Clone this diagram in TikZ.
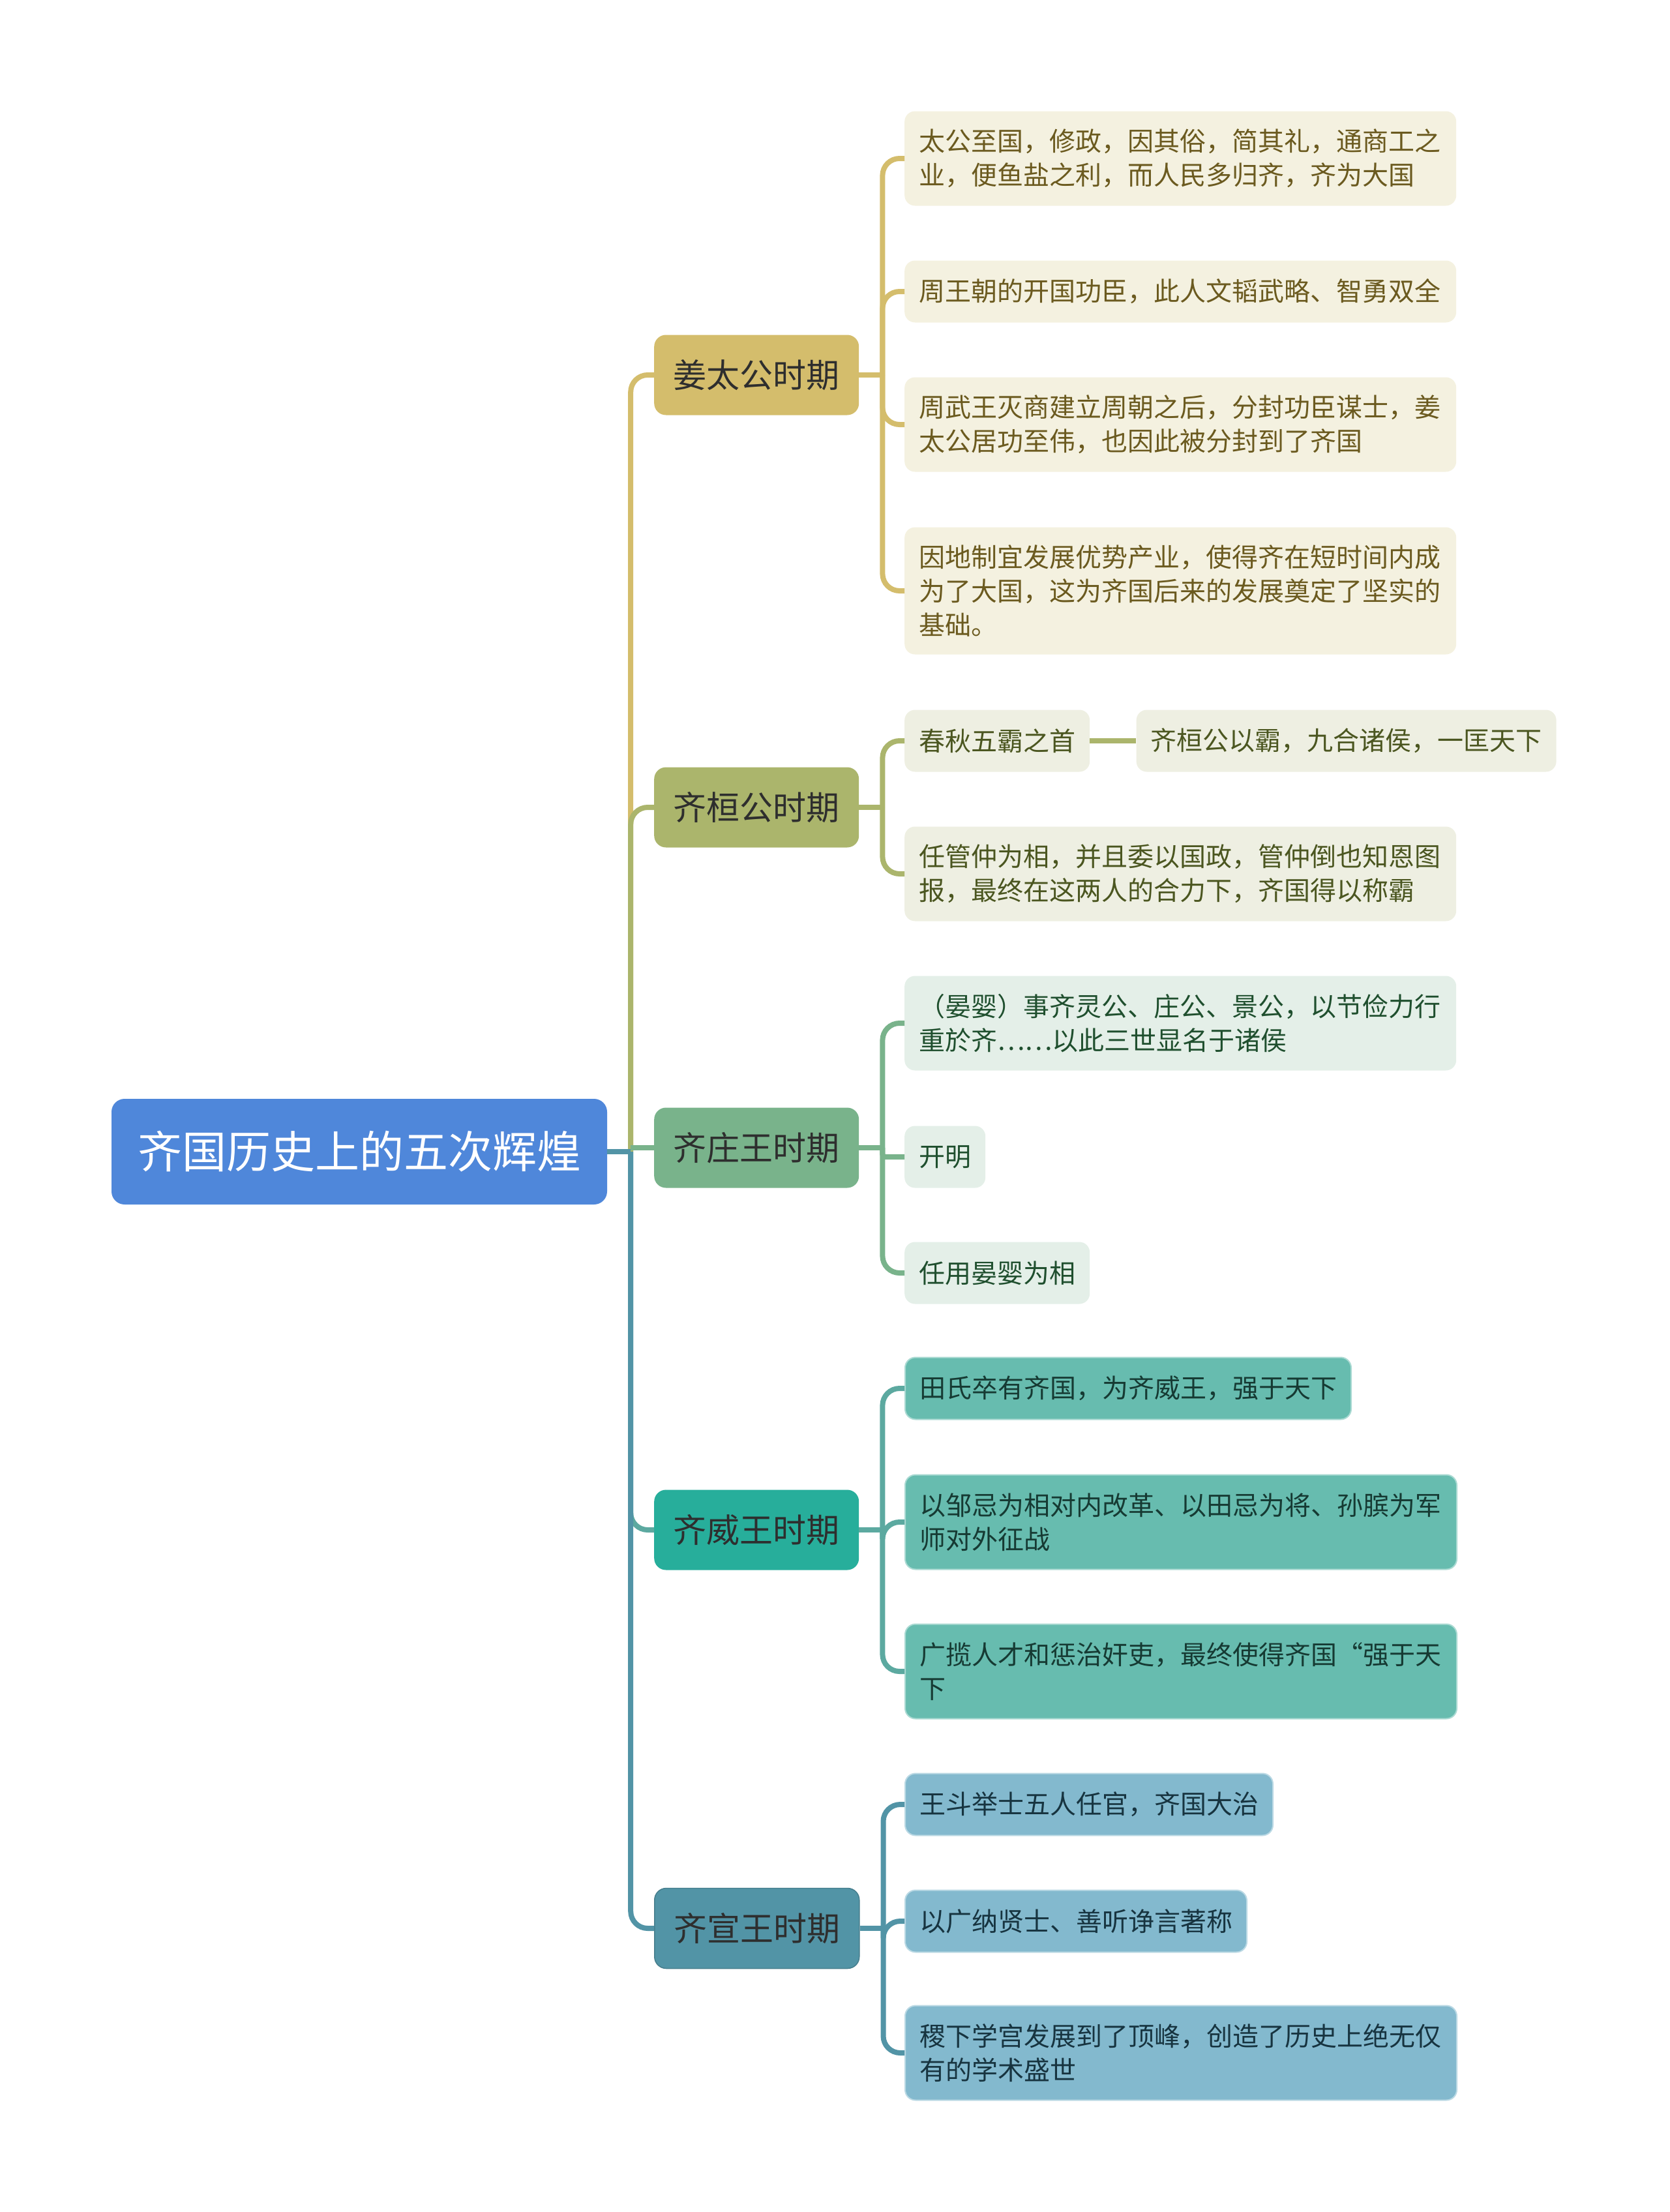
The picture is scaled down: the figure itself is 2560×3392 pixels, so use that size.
\documentclass[tikz,border=0pt]{standalone}
\usepackage{fontspec}
\setmainfont{Noto Sans CJK SC}
\usepackage{tikz}
\usetikzlibrary{positioning}

\definecolor{rootblue}{HTML}{4F87DA}
\definecolor{jiangc}{HTML}{D4BD6C}
\definecolor{jiangleaf}{HTML}{F4F1E0}
\definecolor{jiangtext}{HTML}{6B5A1F}
\definecolor{huanc}{HTML}{ABB56C}
\definecolor{huanleaf}{HTML}{EEEFE2}
\definecolor{huantext}{HTML}{4B5620}
\definecolor{zhuangc}{HTML}{79B38B}
\definecolor{zhuangleaf}{HTML}{E4EFE8}
\definecolor{zhuangtext}{HTML}{1F4F2E}
\definecolor{weic}{HTML}{27AE9B}
\definecolor{weilink}{HTML}{5CA9A0}
\definecolor{weileaf}{HTML}{67BCAF}
\definecolor{weitext}{HTML}{163A33}
\definecolor{xuanc}{HTML}{5294A6}
\definecolor{xuanleaf}{HTML}{83B9CE}
\definecolor{xuantext}{HTML}{173440}
\definecolor{topictext}{HTML}{2E2E2E}

\begin{document}
\begin{tikzpicture}[
    x=1pt, y=-1pt,
    rootbox/.style={rectangle, rounded corners=20pt, fill=rootblue, text=white, minimum width=760pt, minimum height=162pt, inner sep=0pt, font=\fontsize{68}{80}\selectfont},
    topic/.style={rectangle, rounded corners=18pt, minimum width=314pt, minimum height=123pt, inner sep=0pt, anchor=west, text=topictext, font=\fontsize{51}{60}\selectfont},
    leaf/.style={rectangle, rounded corners=16pt, inner xsep=22pt, inner ysep=0pt, minimum height=95pt, anchor=west, align=left, font=\fontsize{40}{52}\selectfont},
    wide/.style={leaf, text width=802pt},
    two/.style={minimum height=145pt},
    three/.style={minimum height=195pt},
    jiangleafbox/.style={fill=jiangleaf, text=jiangtext},
    huanleafbox/.style={fill=huanleaf, text=huantext},
    zhuangleafbox/.style={fill=zhuangleaf, text=zhuangtext},
    weileafbox/.style={fill=weileaf, text=weitext, draw=weileaf!55!white, line width=2pt},
    xuanleafbox/.style={fill=xuanleaf, text=xuantext, draw=xuanleaf!55!white, line width=2pt},
    link/.style={line width=8pt, rounded corners=26pt},
]
\useasboundingbox (0,0) rectangle (2560,3392);

% 中心主题
\node[rootbox] (root) at (551,1766) {齐国历史上的五次辉煌};
\coordinate[right=36pt of root.east] (trunk);

% 五个时期
\node[topic, fill=jiangc] (jiang) at (1003,575) {姜太公时期};
\node[topic, fill=huanc] (huan) at (1003,1238) {齐桓公时期};
\node[topic, fill=zhuangc] (zhuang) at (1003,1760) {齐庄王时期};
\node[topic, fill=weic] (wei) at (1003,2346) {齐威王时期};
\node[topic, fill=xuanc, draw=xuanc!85!black, line width=1.5pt] (xuan) at (1003,2957) {齐宣王时期};

\coordinate[right=36pt of jiang.east] (jiang_fork);
\coordinate[right=36pt of huan.east] (huan_fork);
\coordinate[right=36pt of zhuang.east] (zhuang_fork);
\coordinate[right=36pt of wei.east] (wei_fork);
\coordinate[right=36pt of xuan.east] (xuan_fork);

% 姜太公时期
\node[wide, two, jiangleafbox] (jiang_a) at (1387,243) {太公至国，修政，因其俗，简其礼，通商工之\\业，便鱼盐之利，而人民多归齐，齐为大国};
\node[wide, jiangleafbox] (jiang_b) at (1387,447) {周王朝的开国功臣，此人文韬武略、智勇双全};
\node[wide, two, jiangleafbox] (jiang_c) at (1387,651) {周武王灭商建立周朝之后，分封功臣谋士，姜\\太公居功至伟，也因此被分封到了齐国};
\node[wide, three, jiangleafbox] (jiang_d) at (1387,906) {因地制宜发展优势产业，使得齐在短时间内成\\为了大国，这为齐国后来的发展奠定了坚实的\\基础。};

% 齐桓公时期
\node[leaf, huanleafbox] (huan_a) at (1387,1136) {春秋五霸之首};
\node[leaf, huanleafbox, right=71pt of huan_a] (huan_a_sub) {齐桓公以霸，九合诸侯，一匡天下};
\node[wide, two, huanleafbox] (huan_b) at (1387,1340) {任管仲为相，并且委以国政，管仲倒也知恩图\\报，最终在这两人的合力下，齐国得以称霸};

% 齐庄王时期
\node[wide, two, zhuangleafbox] (zhuang_a) at (1387,1569) {（晏婴）事齐灵公、庄公、景公，以节俭力行\\重於齐……以此三世显名于诸侯};
\node[leaf, zhuangleafbox] (zhuang_b) at (1387,1774) {开明};
\node[leaf, zhuangleafbox] (zhuang_c) at (1387,1952) {任用晏婴为相};

% 齐威王时期
\node[leaf, weileafbox] (wei_a) at (1387,2129) {田氏卒有齐国，为齐威王，强于天下};
\node[wide, two, weileafbox] (wei_b) at (1387,2334) {以邹忌为相对内改革、以田忌为将、孙膑为军\\师对外征战};
\node[wide, two, weileafbox] (wei_c) at (1387,2563) {广揽人才和惩治奸吏，最终使得齐国“强于天\\下};

% 齐宣王时期
\node[leaf, xuanleafbox] (xuan_a) at (1387,2767) {王斗举士五人任官，齐国大治};
\node[leaf, xuanleafbox] (xuan_b) at (1387,2946) {以广纳贤士、善听诤言著称};
\node[wide, two, xuanleafbox] (xuan_c) at (1387,3148) {稷下学宫发展到了顶峰，创造了历史上绝无仅\\有的学术盛世};

% 一级连线
\draw[link, jiangc] (trunk) |- (jiang.west);
\draw[link, huanc] (trunk) |- (huan.west);
\draw[link, zhuangc] (zhuang.west -| trunk) -- (zhuang.west);
\draw[link, weilink] (trunk) |- (wei.west);
\draw[link, xuanc] (trunk) |- (xuan.west);
\draw[link, xuanc] (root.east) -- (trunk);

% 二级连线
\draw[link, jiangc] (jiang.east) -- (jiang_fork);
\foreach \n in {a,b,c,d}
    \draw[link, jiangc] (jiang_fork) |- (jiang_\n.west);
\draw[link, huanc] (huan.east) -- (huan_fork);
\foreach \n in {a,b}
    \draw[link, huanc] (huan_fork) |- (huan_\n.west);
\draw[link, huanc] (huan_a) -- (huan_a_sub);
\draw[link, zhuangc] (zhuang.east) -- (zhuang_fork);
\foreach \n in {a,c}
    \draw[link, zhuangc] (zhuang_fork) |- (zhuang_\n.west);
\draw[link, zhuangc, rounded corners=4pt] (zhuang_fork) |- (zhuang_b.west);
\draw[link, weilink] (wei.east) -- (wei_fork);
\foreach \n in {a,b,c}
    \draw[link, weilink] (wei_fork) |- (wei_\n.west);
\draw[link, xuanc] (xuan.east) -- (xuan_fork);
\foreach \n in {a,b,c}
    \draw[link, xuanc] (xuan_fork) |- (xuan_\n.west);

\end{tikzpicture}
\end{document}
